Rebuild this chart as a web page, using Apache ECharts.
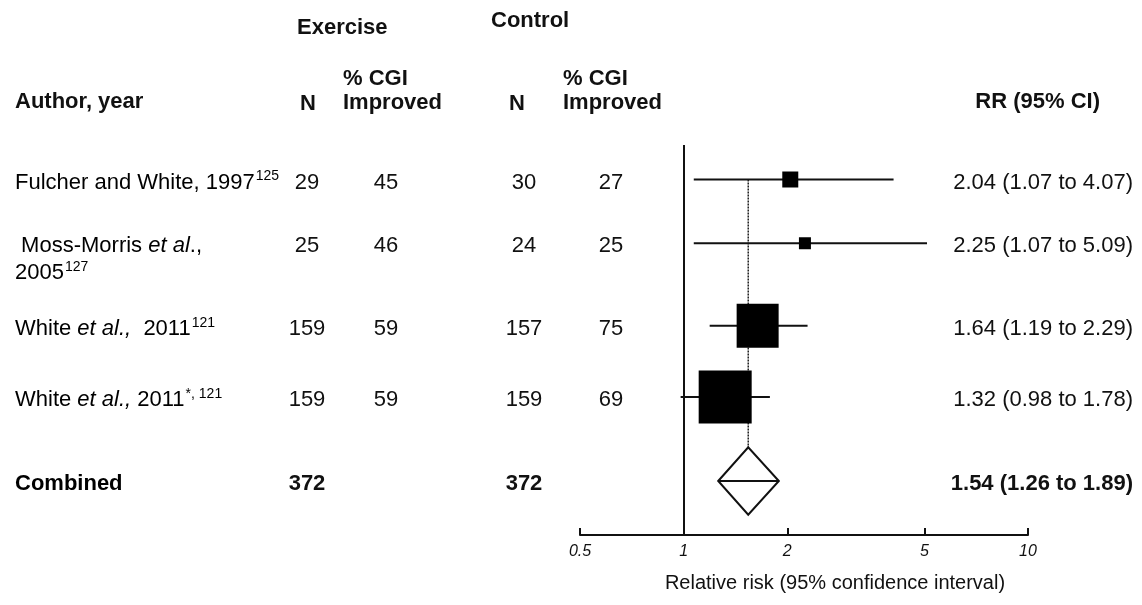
<!DOCTYPE html>
<html>
<head>
<meta charset="utf-8">
<script src="https://cdn.jsdelivr.net/npm/echarts@6/dist/echarts.min.js"></script>
<style>html,body{margin:0;padding:0;background:#fff}#c{width:1142px;height:605px}</style>
</head>
<body>
<div id="c"></div>
<script>
// ---- data ----
const studyLabels = [
  ['{n|Fulcher and White, 1997}{s|125}'],
  ['{n| Moss-Morris }{i|et al}{n|.,}', '{n|2005}{s|127}'],
  ['{n|White }{i|et al.,}{n|  2011}{s|121}'],
  ['{n|White }{i|et al.,}{n| 2011}{s|*, 121}'],
  ['{b|Combined}']
];
const exerciseN = [29, 25, 159, 159, 372];
const exercisePct = [45, 46, 59, 59, null];
const controlN = [30, 24, 157, 159, 372];
const controlPct = [27, 25, 75, 69, null];
const rr = [2.04, 2.25, 1.64, 1.32, 1.54];
const ciLow = [1.07, 1.07, 1.19, 0.98, 1.26];
const ciHigh = [4.07, 5.09, 2.29, 1.78, 1.89];
const tickValues = [0.5, 1, 2, 5, 10];

// ---- layout (not data) ----
const rowSlot = [1, 1.85, 2.95, 3.9, 5.02];
const boxSize = [[16, 16], [12, 12], [42, 44], [53, 53]];
const diamondHalf = 0.45;
const FONT = 'Liberation Sans, Arial, sans-serif';
const FS = 22;
const colX = { label: 15, exN: 307, exPct: 386, ctN: 524, ctPct: 611, rr: 1133 };
const textDy = 3;

const rich = {
  n: { fontFamily: FONT, fontSize: FS, color: '#111', lineHeight: 26 },
  i: { fontFamily: FONT, fontSize: FS, color: '#111', fontStyle: 'italic', lineHeight: 26 },
  b: { fontFamily: FONT, fontSize: FS, color: '#111', fontWeight: 'bold', lineHeight: 26 },
  s: { fontFamily: FONT, fontSize: 14, color: '#111', verticalAlign: 'top', lineHeight: 26, padding: [0, 0, 8, 1] }
};

const chart = echarts.init(document.getElementById('c'), null, { renderer: 'canvas' });

const studyData = rr.slice(0, 4).map((v, i) => [ciLow[i], ciHigh[i], v, rowSlot[i]]);
const combIdx = 4;

function txt(x, y, text, align, bold) {
  return {
    type: 'text',
    style: {
      x: x, y: y, text: text, textAlign: align, textVerticalAlign: 'middle',
      fill: '#111', font: (bold ? 'bold ' : '') + FS + 'px ' + FONT
    }
  };
}

const HB = 'bold 22px ' + FONT;
const option = {
  backgroundColor: '#fff',
  animation: false,
  grid: { left: 580, right: 114, top: 145, bottom: 70 },
  xAxis: {
    type: 'log', logBase: 10, min: 0.5, max: 10,
    axisLine: { show: true, onZero: false, lineStyle: { color: '#111', width: 2 } },
    axisTick: { show: true, inside: true, length: 7, customValues: tickValues, lineStyle: { color: '#111', width: 2 } },
    axisLabel: { customValues: tickValues, fontFamily: FONT, fontSize: 16, fontStyle: 'italic', color: '#111', margin: 9, formatter: v => String(v) },
    splitLine: { show: false }, minorTick: { show: false }
  },
  yAxis: { type: 'value', inverse: true, min: 0.54, max: 5.74, show: false },
  title: {
    text: 'Relative risk (95% confidence interval)', left: 830, top: 568, textAlign: 'center',
    textStyle: { fontFamily: FONT, fontSize: 20, fontWeight: 'normal', color: '#111' }
  },
  graphic: [
    { type: 'text', left: 297, top: 17, style: { text: 'Exercise', font: HB, fill: '#111' } },
    { type: 'text', left: 491, top: 10, style: { text: 'Control', font: HB, fill: '#111' } },
    { type: 'text', left: 343, top: 67, style: { text: '% CGI\nImproved', font: HB, fill: '#111', lineHeight: 24 } },
    { type: 'text', left: 563, top: 67, style: { text: '% CGI\nImproved', font: HB, fill: '#111', lineHeight: 24 } },
    { type: 'text', left: 15, top: 91, style: { text: 'Author, year', font: HB, fill: '#111' } },
    { type: 'text', left: 300, top: 93, style: { text: 'N', font: HB, fill: '#111' } },
    { type: 'text', left: 509, top: 93, style: { text: 'N', font: HB, fill: '#111' } },
    { type: 'text', right: 42, top: 91, style: { text: 'RR (95% CI)', font: HB, fill: '#111' } }
  ],
  series: [
    {
      // line of no effect
      type: 'line', data: [], silent: true,
      markLine: {
        silent: true, symbol: 'none', label: { show: false },
        lineStyle: { color: '#111', width: 2, type: 'solid' },
        data: [{ xAxis: 1 }]
      }
    },
    {
      // dotted pooled-estimate reference line
      type: 'line', silent: true, symbol: 'none', z: 1,
      data: [[rr[combIdx], rowSlot[0]], [rr[combIdx], rowSlot[combIdx] - diamondHalf]],
      lineStyle: { color: '#222', width: 1.5, type: [2, 1] }
    },
    {
      // study CIs and boxes
      type: 'custom', z: 3,
      data: studyData,
      encode: { x: [0, 1, 2], y: 3 },
      renderItem: function (params, api) {
        const y = api.value(3);
        const a = api.coord([api.value(0), y]);
        const b = api.coord([api.value(1), y]);
        const c = api.coord([api.value(2), y]);
        const s = boxSize[params.dataIndex];
        return {
          type: 'group', children: [
            { type: 'line', shape: { x1: a[0], y1: a[1], x2: b[0], y2: b[1] }, style: { stroke: '#111', lineWidth: 2 } },
            { type: 'rect', shape: { x: c[0] - s[0] / 2, y: c[1] - s[1] / 2, width: s[0], height: s[1] }, style: { fill: '#000' } }
          ]
        };
      }
    },
    {
      // combined diamond
      type: 'custom', z: 3,
      data: [[ciLow[combIdx], ciHigh[combIdx], rr[combIdx], rowSlot[combIdx]]],
      encode: { x: [0, 1, 2], y: 3 },
      renderItem: function (params, api) {
        const y = api.value(3);
        const l = api.coord([api.value(0), y]);
        const r = api.coord([api.value(1), y]);
        const t = api.coord([api.value(2), y - diamondHalf]);
        const bt = api.coord([api.value(2), y + diamondHalf]);
        return {
          type: 'group', children: [
            { type: 'polygon', shape: { points: [l, t, r, bt] }, style: { fill: '#fff', stroke: '#111', lineWidth: 2 } },
            { type: 'line', shape: { x1: l[0], y1: l[1], x2: r[0], y2: r[1] }, style: { stroke: '#111', lineWidth: 2 } }
          ]
        };
      }
    },
    {
      // table text
      type: 'custom', z: 5, clip: false,
      data: rowSlot.map((s, i) => [1, s, i]),
      encode: { x: 0, y: 1 },
      renderItem: function (params, api) {
        const i = params.dataIndex;
        const y = api.coord([1, api.value(1)])[1] + textDy;
        const bold = i === combIdx;
        const children = [];
        studyLabels[i].forEach((line, k) => {
          children.push({
            type: 'text',
            style: { x: colX.label, y: y + k * 27, text: line, rich: rich, textAlign: 'left', textVerticalAlign: 'middle' }
          });
        });
        children.push(txt(colX.exN, y, String(exerciseN[i]), 'center', bold));
        if (exercisePct[i] != null) children.push(txt(colX.exPct, y, String(exercisePct[i]), 'center', bold));
        children.push(txt(colX.ctN, y, String(controlN[i]), 'center', bold));
        if (controlPct[i] != null) children.push(txt(colX.ctPct, y, String(controlPct[i]), 'center', bold));
        const rrText = rr[i].toFixed(2) + ' (' + ciLow[i].toFixed(2) + ' to ' + ciHigh[i].toFixed(2) + ')';
        children.push(txt(colX.rr, y, rrText, 'right', bold));
        return { type: 'group', children: children };
      }
    }
  ]
};
chart.setOption(option);
</script>
</body>
</html>
